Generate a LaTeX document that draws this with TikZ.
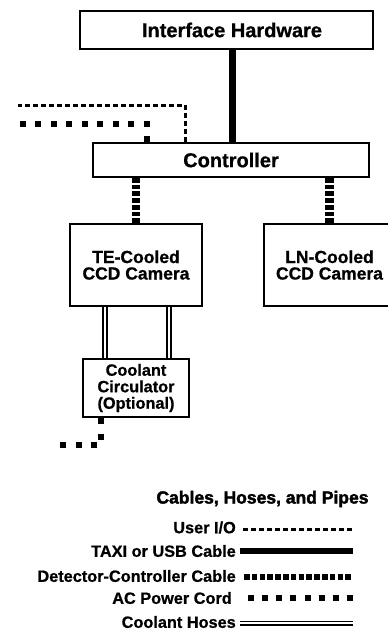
\documentclass[tikz,border=0pt]{standalone}
\usepackage{fontspec}
\setmainfont{Liberation Sans}[BoldFeatures={FakeBold=0.8}]
\newfontfamily\titlefont{Liberation Sans}[UprightFont=*-Bold, UprightFeatures={FakeBold=2.2}]
\begin{document}
\begin{tikzpicture}[x=1pt,y=-1pt,
  box/.style={draw=black, line width=2pt, fill=white, inner sep=0pt, align=center},
  bigtxt/.style={font=\fontsize{20}{24}\selectfont\bfseries},
  camtxt/.style={font=\fontsize{17.5}{16.5}\selectfont\bfseries},
  cctxt/.style={font=\fontsize{16.3}{16.5}\selectfont\bfseries},
  legtxt/.style={font=\fontsize{16.3}{18}\selectfont\bfseries, inner sep=0pt, anchor=east},
  titletxt/.style={font=\fontsize{17.5}{20}\selectfont\titlefont, inner sep=0pt},
  userio/.style={line width=3pt, dash pattern=on 5pt off 3pt},
  taxi/.style={line width=7pt},
  detc/.style={line width=8.5pt, dash pattern=on 4.7pt off 2pt},
  acpower/.style={line width=6pt, dash pattern=on 6pt off 9.5pt},
  hose/.style={line width=1.7pt, double=white, double distance=2.4pt}]
\useasboundingbox (0,0) rectangle (388,630);
\clip (0,0) rectangle (388,630);

% boxes
\node[box, bigtxt, minimum width=293pt, minimum height=38pt] (ih) at (226.5,30) {\hspace*{11pt}Interface Hardware};
\node[box, bigtxt, minimum width=276pt, minimum height=34pt] (ctl) at (231,160) {Controller};
\node[box, camtxt, minimum width=132pt, minimum height=82pt] (te) at (136,265) {TE-Cooled\\CCD Camera};
\node[box, camtxt, minimum width=131pt, minimum height=82pt] (ln) at (329.5,265) {LN-Cooled\\CCD Camera};
\node[box, cctxt, minimum width=106pt, minimum height=58pt] (cc) at (136,388) {Coolant\\Circulator\\(Optional)};

% free ends
\coordinate (uioend) at (18,105);
\coordinate (acend) at (16,124);
\coordinate (ccend) at (57,445);

% connectors
\draw[taxi] ([xshift=6pt]ih.south) -- ([xshift=1.5pt]ctl.north);
\draw[userio] ([xshift=-46pt]ctl.north) |- (uioend);
\draw[acpower] ([xshift=-84pt]ctl.north) |- (acend);
\draw[detc] (ctl.south -| te.north) -- (te.north);
\draw[detc] (ctl.south -| ln.north) -- (ln.north);
\draw[hose] ([xshift=-31pt]te.south) -- ([xshift=-31pt]cc.north);
\draw[hose] ([xshift=33pt]te.south) -- ([xshift=33pt]cc.north);
\draw[acpower] ([xshift=-35pt]cc.south) |- (ccend);

% legend
\node[titletxt] (title) at (262.5,499) {Cables, Hoses, and Pipes};
\coordinate (legR) at (353,0);
\node[legtxt] (l1) at (236,527.5) {User I/O};
\node[legtxt] (l2) at (236,551) {TAXI or USB Cable};
\node[legtxt] (l3) at (236,576) {Detector-Controller Cable};
\node[legtxt] (l4) at (232,598) {AC Power Cord};
\node[legtxt] (l5) at (236,622) {Coolant Hoses};
\draw[userio] ([xshift=7pt,yshift=-1.5pt]l1.east) -- ([yshift=-1.5pt]l1.east -| legR);
\draw[taxi, line width=6pt] ([xshift=3.5pt]l2.east) -- (l2.east -| legR);
\draw[detc, line width=6pt, dash pattern=on 5.5pt off 2.3pt] ([xshift=8pt,yshift=-0.5pt]l3.east) -- ([yshift=-0.5pt]l3.east -| legR);
\draw[acpower, dash pattern=on 6pt off 8.14pt] ([xshift=16pt]l4.east) -- (l4.east -| legR);
\draw[hose, line width=1.5pt, double distance=2pt] ([xshift=4pt,yshift=-1pt]l5.east) -- ([yshift=-1pt]l5.east -| legR);
\end{tikzpicture}
\end{document}
